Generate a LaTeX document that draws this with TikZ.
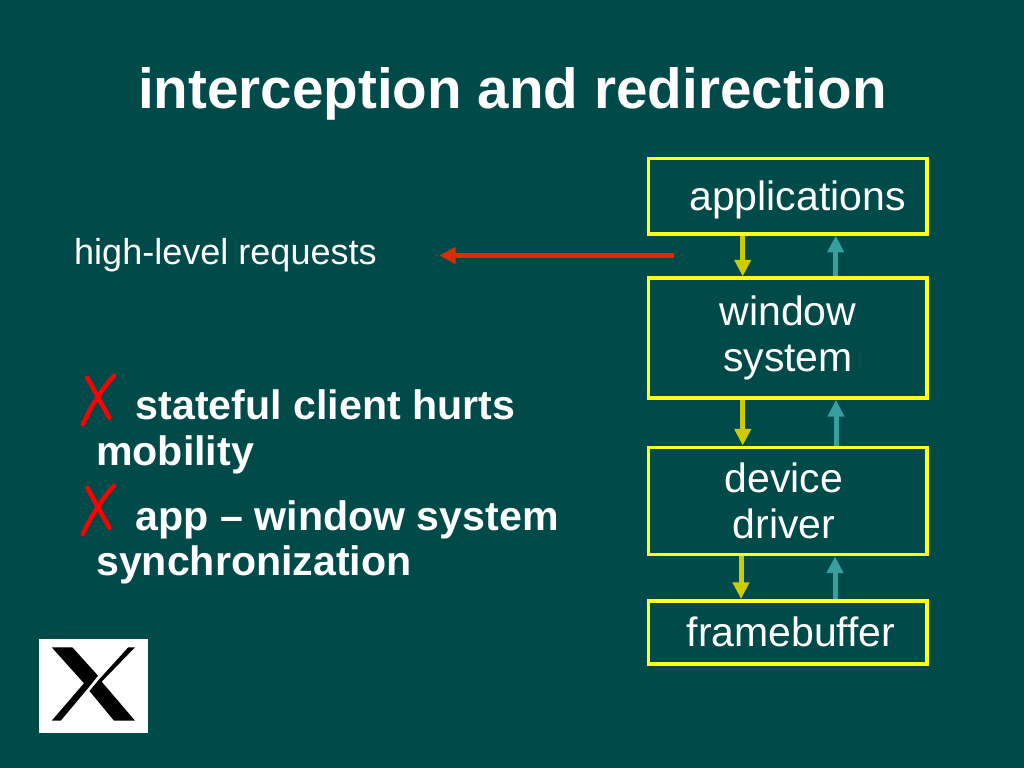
\documentclass[tikz,border=0pt]{standalone}
\usepackage{fontspec}
\setmainfont{Liberation Sans}
\usepackage{xcolor}
\usetikzlibrary{arrows.meta}
\definecolor{slidebg}{HTML}{014A4A}
\definecolor{boxyellow}{HTML}{FFFF1A}
\definecolor{downcol}{HTML}{CCCC00}
\definecolor{upcol}{HTML}{36A0A0}
\definecolor{reqred}{HTML}{DD2A00}

\begin{document}
\begin{tikzpicture}[x=0.01cm, y=-0.01cm,
    layerbox/.style={draw=boxyellow, line width=0.038cm, inner sep=0pt, minimum width=2.782cm},
    boxtext/.style={text=white, align=center, font=\fontsize{11.65}{13.1}\selectfont},
    bullettext/.style={text=white, anchor=base west, inner sep=0pt, font=\fontsize{11.7}{13}\selectfont\bfseries},
    downarrow/.style={draw=downcol, line width=0.05cm, -{Triangle[length=1.67mm, width=1.6mm, fill=downcol]}},
    uparrow/.style={draw=upcol, line width=0.05cm, -{Triangle[length=1.67mm, width=1.6mm, fill=upcol]}},
    crossstroke/.style={draw=red, line width=0.045cm, line cap=round}]
% --- Slide background ---
\fill[slidebg] (0,0) rectangle (1024,768);
\node[text=white, font=\fontsize{16.1}{18}\selectfont\bfseries] (title) at (512.5,94)
  {interception and redirection};
% --- Layer stack ---
\node[layerbox, minimum height=0.753cm] (apps) at (787.6,196.1) {};
\node[layerbox, minimum height=1.195cm] (win) at (787.6,338.2) {};
\node[layerbox, minimum height=1.07cm] (drv) at (787.6,501) {};
\node[layerbox, minimum height=0.63cm] (fb) at (787.6,632.5) {};
\node[boxtext] (appstext) at (797.5,200) {applications};
\node[boxtext] (wintext) at (788,338) {window\\system};
\node[boxtext] (drvtext) at (784,501) {device\\driver};
\node[boxtext] (fbtext) at (791,632) {framebuffer};
% x positions of the arrows between layers
\coordinate (downa) at (742.7,0);
\coordinate (upa) at (835.7,0);
\coordinate (downb) at (742.7,0);
\coordinate (upb) at (836,0);
\coordinate (downc) at (741,0);
\coordinate (upc) at (835,0);
\draw[downarrow] (apps.south -| downa) -- (win.north -| downa);
\draw[uparrow] (win.north -| upa) -- (apps.south -| upa);
\draw[downarrow] (win.south -| downb) -- (drv.north -| downb);
\draw[uparrow] (drv.north -| upb) -- (win.south -| upb);
\draw[downarrow] (drv.south -| downc) -- (fb.north -| downc);
\draw[uparrow] (fb.north -| upc) -- (drv.south -| upc);
% --- Requests leaving the stack ---
\node[text=white, anchor=base west, inner sep=0pt, font=\fontsize{10.25}{12}\selectfont] (reqs) at (73.5,265)
  {high-level requests};
\coordinate (reqstart) at (674,255.5);
\coordinate (reqend) at (439,255.5);
\draw[draw=reqred, line width=0.05cm, -{Triangle[length=1.67mm, width=1.6mm, fill=reqred]}]
  (reqstart) -- (reqend);
% --- Drawbacks ---
\foreach \ypos in {0,110}{
  \draw[crossstroke] (114,375.7+\ypos) .. controls (103,388+\ypos) and (92,404+\ypos) .. (82.7,424.3+\ypos);
  \draw[crossstroke] (87.3,377.7+\ypos) -- (109.3,417.7+\ypos);
}
\node[bullettext] (costa) at (135,420) {stateful client hurts};
\node[bullettext] (costb) at (95.5,466) {mobility};
\node[bullettext] (costc) at (135,531) {app -- window system};
\node[bullettext] (costd) at (95.5,576) {synchronization};
% --- X logo ---
\fill[white] (39,639) rectangle (148,733);
\fill[black] (51.7,647.3) -- (72.3,647.3) -- (98,675.7) -- (88.2,688) -- (60.7,720.7)
  -- (51.7,720.7) -- (84,683.3) -- cycle;
\fill[black] (128.3,647.3) -- (135,647.3) -- (101.7,681.7) -- (135,720.7) -- (114,720.7)
  -- (89.5,691) -- (99.5,679) -- cycle;
\end{tikzpicture}
\end{document}
